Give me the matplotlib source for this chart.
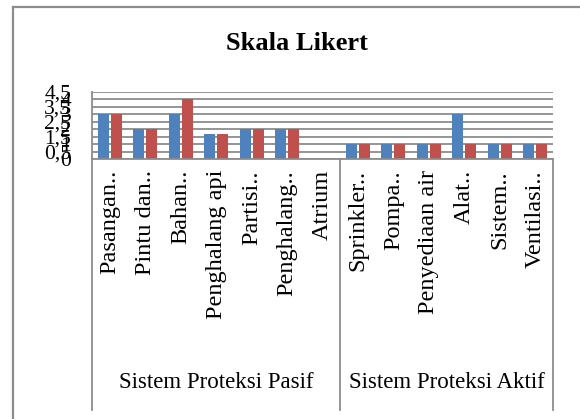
import matplotlib
matplotlib.use('Agg')
import matplotlib.pyplot as plt
from matplotlib.lines import Line2D
import numpy as np

kategori = ['Pasangan..', 'Pintu dan..', 'Bahan..', 'Penghalang api', 'Partisi..',
            'Penghalang..', 'Atrium', 'Sprinkler..', 'Pompa..', 'Penyediaan air',
            'Alat..', 'Sistem..', 'Ventilasi..']
seri_1 = [3, 2, 3, 1.67, 2, 2, 0, 1, 1, 1, 3, 1, 1]
seri_2 = [3, 2, 4, 1.67, 2, 2, 0, 1, 1, 1, 1, 1, 1]
grup = ['Sistem Proteksi Pasif', 'Sistem Proteksi Aktif']
jumlah_grup = [7, 6]
y_ticks = [0, 0.5, 1, 1.5, 2, 2.5, 3, 3.5, 4, 4.5]
y_labels = ['0', '0,5', '1', '1,5', '2', '2,5', '3', '3,5', '4', '4,5']

plt.rcParams['font.family'] = 'Liberation Serif'
abu = '#8c8c8c'

W, H = 580, 419
fig = plt.figure(figsize=(W / 100, H / 100), dpi=100)

# bingkai luar (kiri & atas)
fig.add_artist(Line2D([13 / W, 13 / W], [0, 1 - 7 / H], color=abu, lw=1.6))
fig.add_artist(Line2D([13 / W, 1], [1 - 7 / H, 1 - 7 / H], color=abu, lw=1.6))

x0, x1, ytop, ybot = 92, 553, 92, 159
ax = fig.add_axes([x0 / W, 1 - ybot / H, (x1 - x0) / W, (ybot - ytop) / H])

x = np.arange(len(kategori))
ax.bar(x - 0.185, seri_1, width=0.31, color='#4F81BD')
ax.bar(x + 0.185, seri_2, width=0.31, color='#C0504D')

ax.set_xlim(-0.5, len(kategori) - 0.5)
ax.set_ylim(0, 4.5)
ax.set_yticks(y_ticks)
ax.set_yticklabels(y_labels, fontsize=15.5)
ax.yaxis.grid(True, color=abu, lw=1.3)
ax.set_axisbelow(True)
ax.tick_params(axis='y', length=0, pad=15)
ax.tick_params(axis='x', length=0, pad=8)
ax.set_xticks(x)
ax.set_xticklabels(kategori, rotation=90, fontsize=17.5)

for s in ['top', 'right']:
    ax.spines[s].set_visible(False)
ax.spines['left'].set_color(abu)
ax.spines['bottom'].set_color(abu)
ax.spines['left'].set_linewidth(1.3)
ax.spines['bottom'].set_linewidth(1.3)

# garis pemisah kategori bertingkat
bawah = (ybot - 410) / (ybot - ytop)
trans = ax.get_xaxis_transform()
batas = np.cumsum([0] + jumlah_grup) - 0.5
for b in batas:
    ax.plot([b, b], [0, bawah], color=abu, lw=1.3, transform=trans, clip_on=False)
for i, nama in enumerate(grup):
    tengah = (batas[i] + batas[i + 1]) / 2
    ax.text(tengah, (ybot - 382) / (ybot - ytop), nama, transform=trans,
            ha='center', va='center', fontsize=16.5)

fig.text(297 / W, 1 - 44 / H, 'Skala Likert', ha='center', va='center',
         fontsize=19, fontweight='bold')

fig.savefig('out.png', dpi=100)
